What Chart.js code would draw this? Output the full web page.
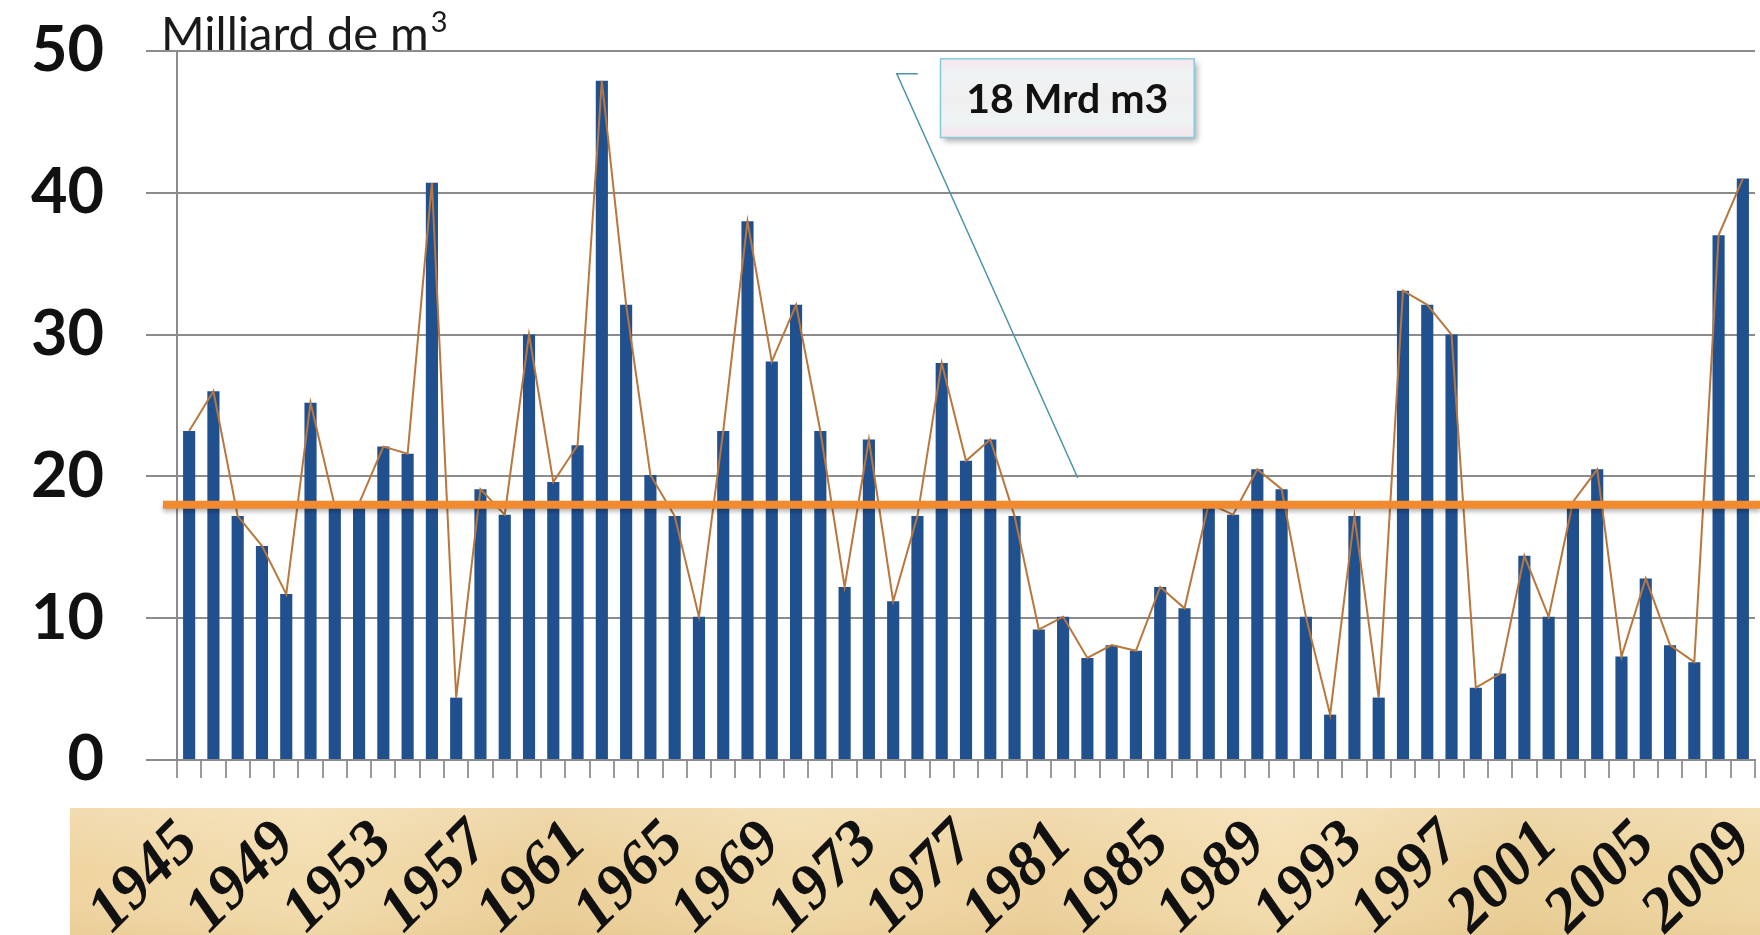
<!DOCTYPE html>
<html>
<head>
<meta charset="utf-8">
<script src="https://cdn.jsdelivr.net/npm/chart.js@4.4.1/dist/chart.umd.min.js"></script>
<style>
  html, body { margin: 0; padding: 0; background: #ffffff; }
  #wrap { width: 1760px; height: 935px; position: relative; }
  canvas { display: block; }
</style>
</head>
<body>
<div id="wrap"><canvas id="chart" width="1760" height="935"></canvas></div>
<script>
// Annual volumes, 1945-2009 (milliards de m3)
const years = [
  1945, 1946, 1947, 1948, 1949, 1950, 1951, 1952, 1953, 1954,
  1955, 1956, 1957, 1958, 1959, 1960, 1961, 1962, 1963, 1964,
  1965, 1966, 1967, 1968, 1969, 1970, 1971, 1972, 1973, 1974,
  1975, 1976, 1977, 1978, 1979, 1980, 1981, 1982, 1983, 1984,
  1985, 1986, 1987, 1988, 1989, 1990, 1991, 1992, 1993, 1994,
  1995, 1996, 1997, 1998, 1999, 2000, 2001, 2002, 2003, 2004,
  2005, 2006, 2007, 2008, 2009
];
const volumes = [
  23.2, 26.0, 17.2, 15.1, 11.7, 25.2, 17.9, 18.1, 22.1, 21.6,
  40.7, 4.4, 19.1, 17.3, 30.0, 19.6, 22.2, 47.9, 32.1, 20.1,
  17.2, 10.1, 23.2, 38.0, 28.1, 32.1, 23.2, 12.2, 22.6, 11.2,
  17.2, 28.0, 21.1, 22.6, 17.2, 9.2, 10.1, 7.2, 8.1, 7.7,
  12.2, 10.7, 18.1, 17.3, 20.5, 19.1, 10.1, 3.2, 17.2, 4.4,
  33.1, 32.1, 30.0, 5.1, 6.1, 14.4, 10.1, 18.2, 20.5, 7.3,
  12.8, 8.1, 6.9, 37.0, 41.0
];
const shownYears = [1945, 1949, 1953, 1957, 1961, 1965, 1969, 1973, 1977, 1981, 1985, 1989, 1993, 1997, 2001, 2005, 2009];
const yTicks = [0, 10, 20, 30, 40, 50];
const averageVolume = 18;
const averageLabel = '18 Mrd m3';
const unitLabel = 'Milliard de m';
const unitExponent = '3';

// Callout anchors, in axis units (category index, value)
const calloutTip = { index: 36.6, value: 19.9 };
const calloutBend = { index: 29.15, value: 48.4 };
const calloutBox = { left: 30.95, right: 41.4, top: 49.45, bottom: 43.9 };

const decorations = {
  id: 'decorations',
  beforeDraw(chart) {
    const { ctx, chartArea } = chart;
    ctx.save();
    ctx.fillStyle = '#ffffff';
    ctx.fillRect(0, 0, chart.width, chart.height);
    // tan band behind the year labels
    const bandTop = chartArea.bottom + 48;
    const bandLeft = chartArea.left - 107;
    const g = ctx.createLinearGradient(bandLeft, 0, chart.width, 0);
    const tones = ['#efd4a0', '#f3ddae', '#ebcf98', '#f1daa9', '#edd29d', '#f4deb0', '#eacf97', '#f0d8a5'];
    tones.forEach((c, i) => g.addColorStop(i / (tones.length - 1), c));
    ctx.fillStyle = g;
    ctx.fillRect(bandLeft, bandTop, chart.width - bandLeft, chart.height - bandTop);
    const v = ctx.createLinearGradient(0, bandTop, 0, chart.height);
    v.addColorStop(0, 'rgba(255,255,255,0.18)');
    v.addColorStop(0.5, 'rgba(255,255,255,0)');
    v.addColorStop(1, 'rgba(200,160,90,0.12)');
    ctx.fillStyle = v;
    ctx.fillRect(bandLeft, bandTop, chart.width - bandLeft, chart.height - bandTop);
    ctx.restore();
  },
  afterDatasetsDraw(chart) {
    const { ctx, chartArea, scales } = chart;
    const xs = scales.x, ys = scales.y;
    ctx.save();
    // average line
    const yAvg = ys.getPixelForValue(averageVolume);
    ctx.shadowColor = 'rgba(0,0,0,0.28)';
    ctx.shadowBlur = 4;
    ctx.shadowOffsetY = 3;
    ctx.strokeStyle = '#f28b30';
    ctx.lineWidth = 8;
    ctx.beginPath();
    ctx.moveTo(chartArea.left - 14, yAvg);
    ctx.lineTo(chart.width, yAvg);
    ctx.stroke();
    ctx.restore();

    // callout pointer
    ctx.save();
    const bx = xs.getPixelForValue(calloutBend.index), by = ys.getPixelForValue(calloutBend.value);
    const tx = xs.getPixelForValue(calloutTip.index), ty = ys.getPixelForValue(calloutTip.value);
    ctx.strokeStyle = '#4a95a5';
    ctx.lineWidth = 1.5;
    ctx.beginPath();
    ctx.moveTo(bx + 21, by);
    ctx.lineTo(bx, by);
    ctx.lineTo(tx, ty);
    ctx.stroke();

    // callout box
    const l = xs.getPixelForValue(calloutBox.left), r = xs.getPixelForValue(calloutBox.right);
    const t = ys.getPixelForValue(calloutBox.top), b = ys.getPixelForValue(calloutBox.bottom);
    ctx.shadowColor = 'rgba(0,0,0,0.35)';
    ctx.shadowBlur = 6;
    ctx.shadowOffsetX = 3;
    ctx.shadowOffsetY = 4;
    const fg = ctx.createLinearGradient(0, t, 0, b);
    fg.addColorStop(0, '#f6e6ee');
    fg.addColorStop(0.2, '#eef3f3');
    fg.addColorStop(0.5, '#f1eff0');
    fg.addColorStop(0.8, '#eef3f3');
    fg.addColorStop(1, '#f6e4ec');
    ctx.fillStyle = fg;
    ctx.fillRect(l, t, r - l, b - t);
    ctx.shadowColor = 'transparent';
    ctx.strokeStyle = '#86ccd6';
    ctx.lineWidth = 1.5;
    ctx.strokeRect(l, t, r - l, b - t);
    ctx.fillStyle = '#111111';
    ctx.font = 'bold 41px Lato';
    ctx.textAlign = 'center';
    ctx.textBaseline = 'middle';
    ctx.fillText(averageLabel, (l + r) / 2, (t + b) / 2 + 2);
    ctx.restore();
  },
  afterDraw(chart) {
    const { ctx, chartArea } = chart;
    ctx.save();
    ctx.fillStyle = '#1a1a1a';
    ctx.textBaseline = 'alphabetic';
    ctx.textAlign = 'left';
    ctx.font = '47px Lato';
    const x0 = chartArea.left - 16;
    const base = chartArea.top - 1;
    ctx.fillText(unitLabel, x0, base);
    const w = ctx.measureText(unitLabel).width;
    ctx.font = '29px Lato';
    ctx.fillText(unitExponent, x0 + w + 2, base - 18);
    ctx.restore();
  }
};

new Chart(document.getElementById('chart'), {
  type: 'bar',
  data: {
    labels: years,
    datasets: [
      {
        type: 'line',
        data: volumes,
        borderColor: '#b8773d',
        borderWidth: 2,
        pointRadius: 0,
        tension: 0,
        order: 0
      },
      {
        type: 'bar',
        data: volumes,
        backgroundColor: '#21508f',
        borderWidth: 0,
        barPercentage: 0.5,
        categoryPercentage: 1,
        order: 1
      }
    ]
  },
  options: {
    responsive: false,
    animation: false,
    devicePixelRatio: 1,
    layout: { padding: { top: 51, right: 5, left: 0, bottom: 0 } },
    plugins: { legend: { display: false }, tooltip: { enabled: false } },
    scales: {
      x: {
        type: 'category',
        offset: true,
        grid: {
          display: true,
          offset: true,
          drawOnChartArea: false,
          tickLength: 18,
          color: '#9a9a9a',
          lineWidth: 2
        },
        border: { display: true, color: '#8c8c8c', width: 2 },
        ticks: {
          autoSkip: false,
          maxRotation: 45,
          minRotation: 45,
          padding: 29,
          color: '#111111',
          font: { family: 'Liberation Serif', size: 63, weight: 'bold', style: 'italic' },
          callback: (v, i) => shownYears.includes(years[i]) ? String(years[i]) : ''
        },
        afterFit(scale) {
          scale.height = 175;
          scale.paddingLeft = 0;
          scale.paddingRight = 0;
        }
      },
      y: {
        min: 0,
        max: 50,
        afterBuildTicks(scale) { scale.ticks = yTicks.map(v => ({ value: v })); },
        grid: {
          color: '#8c8c8c',
          lineWidth: 2,
          tickLength: 31
        },
        border: { display: true, color: '#8c8c8c', width: 2 },
        ticks: {
          padding: 42,
          color: '#111111',
          font: { family: 'Lato', size: 63, weight: 'bold' }
        },
        afterFit(scale) {
          scale.width = 177;
          scale.paddingTop = 0;
          scale.paddingBottom = 0;
        }
      }
    }
  },
  plugins: [decorations]
});
</script>
</body>
</html>
